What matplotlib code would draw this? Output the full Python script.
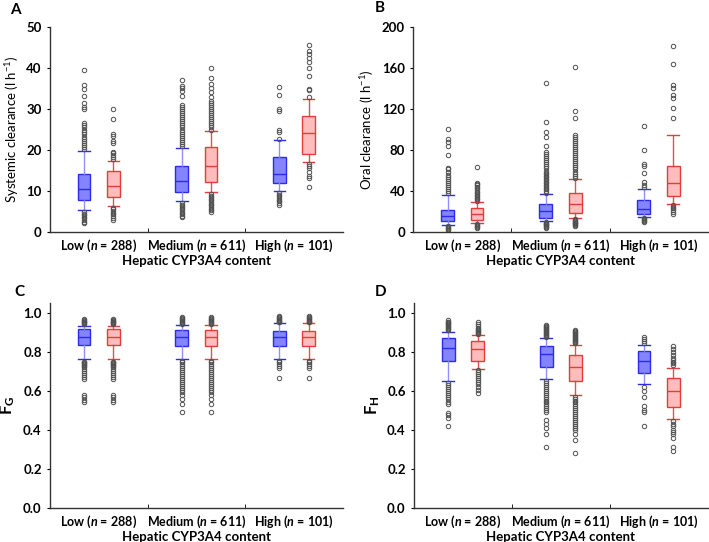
import numpy as np
import matplotlib.pyplot as plt

plt.rcParams['font.family'] = ['Lato', 'DejaVu Sans']
plt.rcParams['mathtext.fontset'] = 'custom'
plt.rcParams['mathtext.rm'] = 'Lato'
plt.rcParams['mathtext.it'] = 'Lato:italic:bold'
plt.rcParams['mathtext.bf'] = 'Lato:bold'

groups = ['Low ($n$ = 288)', 'Medium ($n$ = 611)', 'High ($n$ = 101)']
xlabel = 'Hepatic CYP3A4 content'

# each box: (q1, median, q3, whisker low, whisker high), order: low-blue, low-red, med-blue, med-red, high-blue, high-red
a_stats = [
    (7.8, 10.6, 14.1, 5.4, 19.8),
    (8.5, 11.3, 14.8, 6.4, 17.2),
    (9.7, 12.5, 16.1, 7.5, 20.5),
    (12.3, 16.2, 20.8, 9.7, 24.6),
    (11.9, 14.2, 18.2, 9.9, 22.5),
    (19.1, 24.2, 28.4, 17.0, 32.5),
]
a_fliers = [
    [20.3, 20.8, 21.3, 21.8, 22.3, 22.8, 23.3, 23.8, 24.3, 24.8, 25.5, 26.2, 26.6, 29.9, 30.5, 31.5, 33.2, 34.8, 35.8, 39.6,
     4.9, 4.5, 4.1, 3.7, 3.3, 2.9, 2.5, 2.2],
    [17.7, 18.2, 18.7, 19.2, 19.6, 21.6, 22.2, 23.4, 24.0, 27.6, 30.1, 5.9, 5.5, 5.1, 4.7, 4.3, 3.9, 3.5, 3.0],
    [21.0, 21.5, 22.0, 22.5, 23.0, 23.5, 24.0, 24.5, 25.0, 25.5, 26.0, 26.5, 27.0, 27.5, 28.0, 28.5, 29.0, 29.5, 30.0,
     30.5, 31.0, 33.1, 34.4, 35.1, 35.6, 37.1, 7.1, 6.7, 6.3, 5.9, 5.5, 5.1, 4.7, 4.3, 3.9, 3.6],
    [25.0, 25.5, 26.0, 26.5, 27.0, 27.5, 28.0, 28.5, 29.0, 29.5, 30.0, 30.5, 31.0, 31.5, 31.9, 33.0, 34.1, 35.1, 36.0,
     37.5, 40.0, 9.3, 8.9, 8.5, 8.1, 7.7, 7.3, 6.9, 6.5, 6.1, 5.7, 5.3, 4.9],
    [22.8, 24.5, 25.0, 29.6, 30.0, 33.4, 35.5, 9.5, 9.1, 8.7, 8.3, 7.9, 7.5, 7.1, 6.7],
    [32.9, 34.7, 35.0, 38.0, 40.0, 41.5, 42.5, 43.4, 44.2, 45.6, 16.6, 16.2, 15.7, 14.6, 13.7, 13.2, 11.0],
]

b_stats = [
    (10.7, 15.3, 21.0, 7.2, 35.8),
    (12.0, 17.6, 23.7, 8.8, 29.3),
    (13.7, 20.5, 27.0, 10.7, 37.4),
    (18.9, 27.0, 38.0, 13.7, 52.0),
    (17.9, 22.4, 31.5, 14.6, 42.3),
    (35.4, 48.0, 64.0, 27.0, 94.3),
]
b_fliers = [
    [38, 40, 42, 44, 46, 48, 50, 52, 54, 56, 59, 61, 62, 75, 84, 88, 91, 101, 6.2, 5.2, 4.2, 3.2, 2.2],
    [30.5, 32, 33.5, 35, 36.5, 38, 39.5, 41, 42.5, 44, 45.5, 47, 48, 63, 7.5, 6.5, 5.5, 4.5, 3.5],
    [38.5, 40, 41.5, 43, 44.5, 46, 47.5, 49, 50.5, 52, 53.5, 55, 56.5, 58, 60, 62, 64, 66, 68, 70, 72, 74, 76, 78,
     84, 93, 98, 107, 145, 9.8, 9, 8.2, 7.4, 6.6, 5.8, 5, 4.2],
    [53, 55, 57, 59, 61, 63, 65, 67, 69, 71, 73, 75, 77, 79, 81, 83, 85, 87, 89, 91, 93, 95, 111, 118, 161,
     12.8, 11.9, 11, 10.1, 9.2, 8.3, 7.4, 6.5, 5.6],
    [44, 46, 49, 58, 64, 66, 80, 103, 13.4, 12.4, 11.4, 10.4, 9.4],
    [111, 121, 131, 134, 141, 143, 164, 182, 26, 24.5, 23, 21.5, 19.5, 17.5],
]

c_stats = [
    (0.833, 0.877, 0.915, 0.761, 0.932),
    (0.833, 0.877, 0.915, 0.761, 0.932),
    (0.829, 0.877, 0.910, 0.762, 0.937),
    (0.829, 0.877, 0.912, 0.765, 0.937),
    (0.831, 0.874, 0.906, 0.764, 0.945),
    (0.831, 0.874, 0.906, 0.764, 0.945),
]
c_low_fl = [0.94, 0.945, 0.95, 0.955, 0.96, 0.965, 0.97, 0.75, 0.745, 0.74, 0.735, 0.73, 0.725, 0.72, 0.71, 0.70,
            0.69, 0.68, 0.67, 0.66, 0.58, 0.57, 0.555, 0.54]
c_med_fl = [0.942, 0.947, 0.952, 0.957, 0.962, 0.967, 0.972, 0.977, 0.755, 0.745, 0.735, 0.725, 0.715, 0.705, 0.695,
            0.685, 0.675, 0.665, 0.655, 0.645, 0.635, 0.625, 0.615, 0.605, 0.595, 0.58, 0.56, 0.53, 0.49]
c_high_fl = [0.95, 0.955, 0.96, 0.965, 0.97, 0.975, 0.98, 0.985, 0.755, 0.745, 0.735, 0.725, 0.715, 0.665]
c_fliers = [c_low_fl, c_low_fl, c_med_fl, c_med_fl, c_high_fl, c_high_fl]

d_stats = [
    (0.752, 0.821, 0.868, 0.651, 0.903),
    (0.752, 0.812, 0.855, 0.713, 0.885),
    (0.723, 0.786, 0.831, 0.658, 0.868),
    (0.651, 0.723, 0.785, 0.579, 0.836),
    (0.691, 0.752, 0.802, 0.636, 0.836),
    (0.518, 0.600, 0.663, 0.453, 0.715),
]
d_fliers = [
    [0.91, 0.915, 0.92, 0.925, 0.93, 0.935, 0.94, 0.945, 0.95, 0.955, 0.965, 0.64, 0.63, 0.62, 0.61, 0.60, 0.59,
     0.58, 0.57, 0.56, 0.545, 0.53, 0.485, 0.475, 0.46, 0.42],
    [0.89, 0.895, 0.9, 0.905, 0.91, 0.915, 0.92, 0.93, 0.94, 0.955, 0.705, 0.695, 0.685, 0.675, 0.665, 0.655, 0.645,
     0.635, 0.62, 0.605, 0.59],
    [0.875, 0.88, 0.885, 0.89, 0.895, 0.9, 0.905, 0.91, 0.915, 0.92, 0.925, 0.93, 0.935, 0.65, 0.64, 0.63, 0.62,
     0.61, 0.60, 0.59, 0.58, 0.57, 0.56, 0.55, 0.54, 0.53, 0.52, 0.51, 0.50, 0.49, 0.45, 0.43, 0.41, 0.38, 0.31],
    [0.845, 0.85, 0.855, 0.86, 0.865, 0.87, 0.875, 0.88, 0.885, 0.89, 0.895, 0.9, 0.905, 0.91, 0.57, 0.56, 0.55,
     0.54, 0.53, 0.52, 0.51, 0.50, 0.49, 0.48, 0.47, 0.46, 0.45, 0.44, 0.43, 0.42, 0.41, 0.40, 0.38, 0.35, 0.28],
    [0.845, 0.855, 0.865, 0.875, 0.62, 0.60, 0.57, 0.52, 0.50, 0.49, 0.42],
    [0.73, 0.74, 0.75, 0.76, 0.77, 0.785, 0.80, 0.815, 0.83, 0.445, 0.43, 0.42, 0.40, 0.39, 0.38, 0.36, 0.31, 0.29],
]

blue_face, blue_edge = '#8484ff', '#2b2bea'
red_face, red_edge = '#ffbcbc', '#e23c3c'


def panel(ax, stats, fliers, ylim, yticks, fmt, ylabel):
    for i, (s, fl) in enumerate(zip(stats, fliers)):
        grp, side = divmod(i, 2)
        pos = grp + (-0.15 if side == 0 else 0.15)
        face, edge = (blue_face, blue_edge) if side == 0 else (red_face, red_edge)
        d = dict(q1=s[0], med=s[1], q3=s[2], whislo=s[3], whishi=s[4], fliers=fl)
        ax.bxp([d], positions=[pos], widths=0.13, patch_artist=True,
               boxprops=dict(facecolor=face, edgecolor=edge, linewidth=1.0),
               medianprops=dict(color=edge, linewidth=1.0),
               whiskerprops=dict(color=face if side == 0 else edge, linewidth=1.0, alpha=0.9),
               capprops=dict(color=edge, linewidth=1.0),
               capwidths=0.12,
               flierprops=dict(marker='o', markersize=3.2, markerfacecolor='none',
                               markeredgecolor='#505050', markeredgewidth=0.7))
    ax.set_xlim(-0.5, 2.5)
    ax.set_ylim(*ylim)
    ax.set_yticks(yticks)
    ax.set_yticklabels([fmt % v for v in yticks], fontweight='bold', fontsize=9.5)
    ax.set_xticks([0, 1, 2])
    ax.set_xticklabels(groups, fontweight='bold', fontsize=9)
    ax.tick_params(axis='x', length=0, pad=4)
    ax.set_xticks([0.5, 1.5], minor=True)
    ax.tick_params(axis='x', which='minor', length=3, direction='in')
    ax.tick_params(axis='y', length=2.5, width=0.8)
    ax.set_xlabel(xlabel, fontweight='bold', fontsize=9.5, labelpad=1)
    ax.set_ylabel(ylabel, fontsize=9.5)
    for sp in ['top', 'right']:
        ax.spines[sp].set_visible(False)
    for sp in ['left', 'bottom']:
        ax.spines[sp].set_linewidth(1.0)
        ax.spines[sp].set_color('#333333')


fig = plt.figure(figsize=(7.09, 5.42), dpi=100)
axA = fig.add_axes([0.0705, 0.572, 0.413, 0.378])
axB = fig.add_axes([0.583, 0.572, 0.415, 0.378])
axC = fig.add_axes([0.0705, 0.063, 0.413, 0.378])
axD = fig.add_axes([0.584, 0.063, 0.414, 0.378])

panel(axA, a_stats, a_fliers, (0, 50), [0, 10, 20, 30, 40, 50], '%d', 'Systemic clearance (l h$^{-1}$)')
panel(axB, b_stats, b_fliers, (0, 200), [0, 40, 80, 120, 160, 200], '%d', 'Oral clearance (l h$^{-1}$)')
panel(axC, c_stats, c_fliers, (0, 1.05), [0, 0.2, 0.4, 0.6, 0.8, 1.0], '%.1f', r'$\mathbf{F_G}$')
panel(axD, d_stats, d_fliers, (0, 1.05), [0, 0.2, 0.4, 0.6, 0.8, 1.0], '%.1f', r'$\mathbf{F_H}$')
axC.yaxis.label.set_size(12)
axD.yaxis.label.set_size(12)

for lab, x, y in [('A', 0.014, 0.982), ('B', 0.529, 0.985), ('C', 0.02, 0.461), ('D', 0.529, 0.461)]:
    fig.text(x, y, lab, fontweight='bold', fontsize=11, va='center')

fig.savefig('out.png', dpi=100)
